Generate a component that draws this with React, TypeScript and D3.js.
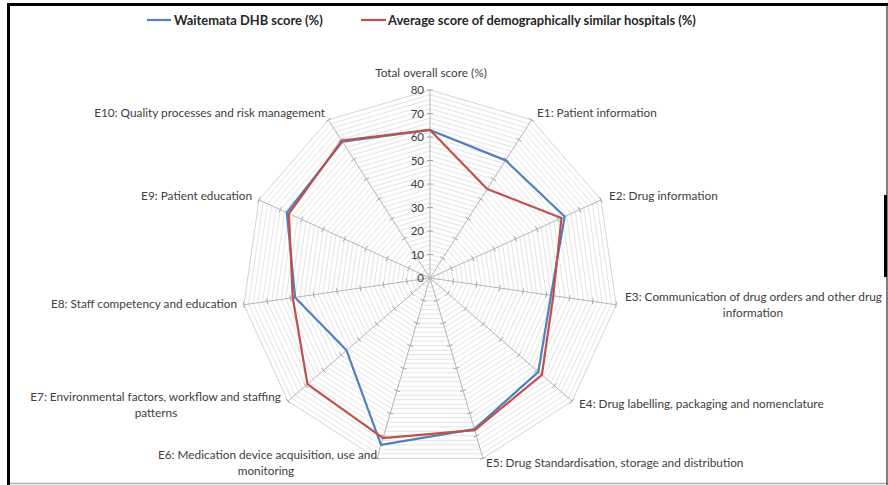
import React from "react";
import * as d3 from "d3";

const categories: string[][] = [
  ["Total overall score (%)"],
  ["E1: Patient information"],
  ["E2: Drug information"],
  ["E3: Communication of drug orders and other drug", "information"],
  ["E4: Drug labelling, packaging and nomenclature"],
  ["E5: Drug Standardisation, storage and distribution"],
  ["E6: Medication device acquisition, use and", "monitoring"],
  ["E7: Environmental factors, workflow and staffing", "patterns"],
  ["E8: Staff competency and education"],
  ["E9: Patient education"],
  ["E10: Quality processes and risk management"],
];
const waitemata = [63, 59.5, 63, 52, 61, 67, 74, 47, 58, 67, 69];
const similar = [63, 45, 61.5, 53, 63, 67.5, 71, 69, 59, 66, 69.5];
const seriesNames = ["Waitemata DHB score (%)", "Average score of demographically similar hospitals (%)"];
const ticks = [0, 10, 20, 30, 40, 50, 60, 70, 80];

const W = 888, H = 485;
const cx = 430, cy = 278, R = 188;
const FONT = "Lato, 'Open Sans', sans-serif";

export default function App() {
  const n = categories.length;
  const r = d3.scaleLinear().domain([0, 80]).range([0, R]);
  const ang = (i: number) => (i * 2 * Math.PI) / n;
  const pt = (i: number, v: number): [number, number] => [
    cx + r(v) * Math.sin(ang(i)),
    cy - r(v) * Math.cos(ang(i)),
  ];
  const minor = d3.range(2, 81, 2);
  const poly = (v: number) => d3.range(n).map((i) => pt(i, v).join(",")).join(" ");
  const line = d3.line<number>().x((v, i) => pt(i, v)[0]).y((v, i) => pt(i, v)[1]).curve(d3.curveLinearClosed);

  const labelPos: [number, number, "start" | "middle" | "end"][] = [
    [431, 77, "middle"],
    [537, 117, "start"],
    [609, 200, "start"],
    [625, 301, "start"],
    [579, 408, "start"],
    [486, 467, "start"],
    [377, 459, "end"],
    [281, 401, "end"],
    [237, 308, "end"],
    [252, 200, "end"],
    [325, 117, "end"],
  ];
  const secondX: Record<number, number> = { 3: 753, 6: 266, 7: 156 };

  return (
    <svg width={W} height={H} style={{ position: "absolute", left: 0, top: 0, background: "#fff" }}>
      <rect x={0} y={0} width={W} height={H} fill="#fff" />
      {minor.map((v) => (
        <polygon key={v} points={poly(v)} fill="none" stroke={v === 80 ? "#c8c8c8" : "#dcdcdc"} strokeWidth={0.8} />
      ))}
      {d3.range(n).map((i) => {
        const [x, y] = pt(i, 80);
        return <line key={i} x1={cx} y1={cy} x2={x} y2={y} stroke="#b5b5b5" strokeWidth={1} />;
      })}
      {d3.range(n).map((i) =>
        ticks.slice(1).map((t) => {
          const [x, y] = pt(i, t);
          const a = ang(i);
          const px = Math.cos(a) * 3, py = Math.sin(a) * 3;
          return <line key={i + "-" + t} x1={x - px} y1={y - py} x2={x + px} y2={y + py} stroke="#a8a8a8" strokeWidth={1} />;
        })
      )}
      <path d={line(waitemata) || ""} fill="none" stroke="#4f81bd" strokeWidth={2.2} strokeLinejoin="round" />
      <path d={line(similar) || ""} fill="none" stroke="#c0504d" strokeWidth={2.2} strokeLinejoin="round" />
      {ticks.map((t) => (
        <text key={t} x={cx - 6} y={cy - r(t)} dy="0.35em" textAnchor="end" fontFamily={FONT} fontSize={11.5} fill="#404040">
          {t}
        </text>
      ))}
      {categories.map((lines, i) => {
        const [lx, ly, anc] = labelPos[i];
        return (
          <text key={i} y={ly} fontFamily={FONT} fontSize={11.8} fill="#404040">
            <tspan x={lx} textAnchor={anc}>{lines[0]}</tspan>
            {lines.length > 1 && (
              <tspan x={secondX[i]} dy={15.5} textAnchor="middle">{lines[1]}</tspan>
            )}
          </text>
        );
      })}
      <line x1={147} x2={171} y1={20} y2={20} stroke="#4f81bd" strokeWidth={2.2} />
      <text x={174} y={20} dy="0.35em" fontFamily={FONT} fontSize={12.9} fontWeight="bold" fill="#262626">{seriesNames[0]}</text>
      <line x1={361} x2={386} y1={20} y2={20} stroke="#c0504d" strokeWidth={2.2} />
      <text x={388} y={20} dy="0.35em" fontFamily={FONT} fontSize={12.9} fontWeight="bold" fill="#262626">{seriesNames[1]}</text>
      <line x1={7} x2={W} y1={4.5} y2={4.5} stroke="#000" strokeWidth={3} />
      <line x1={8.5} x2={8.5} y1={3} y2={H} stroke="#000" strokeWidth={3} />
      <line x1={10} x2={W} y1={483.5} y2={483.5} stroke="#b0b0b0" strokeWidth={1.5} />
      <line x1={887} x2={887} y1={6} y2={H} stroke="#555" strokeWidth={1.5} />
      <line x1={885.5} x2={885.5} y1={195} y2={277} stroke="#000" strokeWidth={3} />
    </svg>
  );
}
